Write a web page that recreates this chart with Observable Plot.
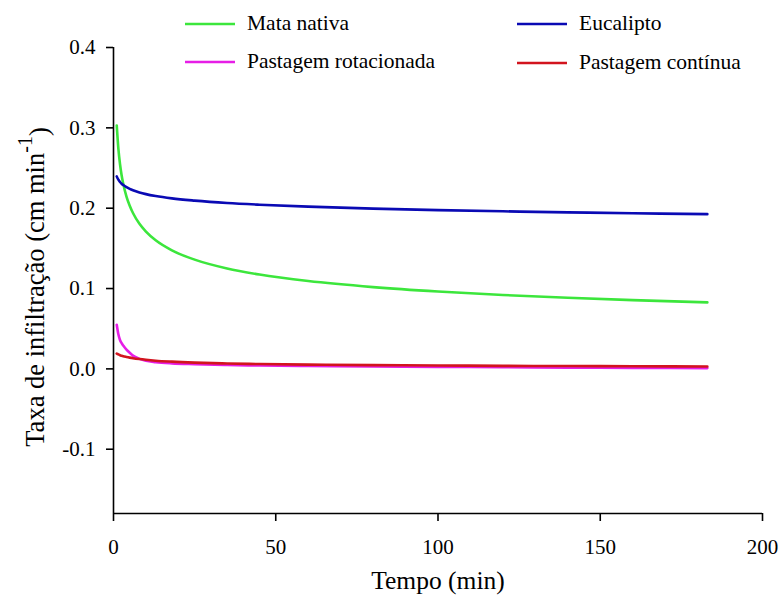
<!DOCTYPE html>
<html><head><meta charset="utf-8">
<script src="https://cdn.jsdelivr.net/npm/d3@7"></script>
<script src="https://cdn.jsdelivr.net/npm/@observablehq/plot@0.6"></script>
<style>
body{margin:0;background:#fff}
#chart{position:relative;width:779px;height:599px}
#chart svg text{font-family:"Liberation Serif","Times New Roman",Tinos,"DejaVu Serif",serif !important}
</style>
</head><body><div id="chart"></div>
<script>
// Time (min)
const tempo = [1, 1.5, 2, 2.5, 3, 4, 5, 6, 8, 10, 13, 18, 25, 35, 45, 60, 80, 100, 120, 140, 160, 183];
// Infiltration rate (cm min-1)
const mataNativa          = [0.303, 0.274, 0.255, 0.241, 0.2305, 0.2145, 0.203, 0.194, 0.1805, 0.1708, 0.160, 0.1475, 0.136, 0.125, 0.1174, 0.1093, 0.1018, 0.0963, 0.092, 0.0885, 0.0856, 0.0828];
const eucalipto           = [0.2395, 0.2355, 0.2326, 0.2305, 0.2288, 0.2261, 0.224, 0.2223, 0.2196, 0.2175, 0.2151, 0.2122, 0.2094, 0.2064, 0.2043, 0.2019, 0.1994, 0.1976, 0.1961, 0.1948, 0.1937, 0.1926];
const pastagemRotacionada = [0.055, 0.043, 0.036, 0.032, 0.029, 0.024, 0.020, 0.0165, 0.0125, 0.010, 0.0083, 0.0068, 0.0058, 0.0048, 0.0042, 0.0036, 0.003, 0.0025, 0.002, 0.0016, 0.0013, 0.001];
const pastagemContinua    = [0.019, 0.018, 0.017, 0.0163, 0.0157, 0.0148, 0.014, 0.0133, 0.0122, 0.0113, 0.0102, 0.009, 0.0078, 0.0067, 0.006, 0.0053, 0.0047, 0.0042, 0.0038, 0.0035, 0.0033, 0.003];

const seriesNames  = ["Mata nativa", "Eucalipto", "Pastagem rotacionada", "Pastagem contínua"];
const seriesColors = ["#3ce63c", "#0a0ab4", "#e61ee6", "#d2141e"];
const xTicks = [0, 50, 100, 150, 200];
const yTicks = [-0.1, 0, 0.1, 0.2, 0.3, 0.4];
const xDomain = [0, 200];
const yDomain = [-0.18, 0.4];
const xTitle = "Tempo (min)";
const yTitle = "Taxa de infiltração (cm min";
const yTitleSup = "-1";

const seriesValues = [mataNativa, eucalipto, pastagemRotacionada, pastagemContinua];
const data = seriesNames.flatMap((name, i) => tempo.map((t, j) => ({serie: name, t, v: seriesValues[i][j]})));

const font = "'Liberation Serif', 'Times New Roman', Tinos, 'DejaVu Serif', serif";

const plot = Plot.plot({
  width: 779,
  height: 599,
  marginLeft: 113,
  marginRight: 17,
  marginTop: 47,
  marginBottom: 86,
  style: {fontFamily: font, fontSize: "21px", color: "#000", background: "#fff"},
  x: {domain: xDomain},
  y: {domain: yDomain},
  color: {domain: seriesNames, range: seriesColors},
  marks: [
    Plot.ruleX([xDomain[0]], {stroke: "#000", strokeWidth: 1.6}),
    Plot.ruleY([yDomain[0]], {stroke: "#000", strokeWidth: 1.6}),
    Plot.axisX({ticks: xTicks, tickSize: 8, tickPadding: 18, fontSize: 21, label: null, strokeWidth: 1.6, tickFormat: d => String(d)}),
    Plot.axisY({ticks: yTicks, tickSize: 7, tickPadding: 11, fontSize: 21, label: null, strokeWidth: 1.6, tickFormat: d => d.toFixed(1)}),
    Plot.line(data, {x: "t", y: "v", z: "serie", stroke: "serie", strokeWidth: 2.6, curve: "monotone-x"})
  ]
});

document.getElementById("chart").appendChild(plot);

const svg = d3.select(plot);
// Axis titles
svg.append("text")
  .attr("x", 438).attr("y", 580).attr("dy", "0.35em")
  .attr("text-anchor", "middle")
  .style("font-size", "25.5px").attr("fill", "#000")
  .text(xTitle);
const yt = svg.append("text")
  .attr("transform", "translate(35,287) rotate(-90)")
  .attr("dy", "0.35em")
  .attr("text-anchor", "middle")
  .style("font-size", "26.5px").attr("fill", "#000");
yt.append("tspan").text(yTitle);
yt.append("tspan").attr("dy", "-0.6em").style("font-size", "20px").text(yTitleSup);
yt.append("tspan").attr("dy", "0.6em").text(")");

// Legend (two columns, two rows)
const legendPos = [[185, 24], [517, 24], [185, 62], [517, 63]];
const lg = svg.append("g").attr("text-anchor", "start");
seriesNames.forEach((name, i) => {
  const [lx, ly] = legendPos[i];
  lg.append("line").attr("x1", lx).attr("x2", lx + 50).attr("y1", ly).attr("y2", ly)
    .attr("stroke", seriesColors[i]).attr("stroke-width", 2.6);
  lg.append("text").attr("x", lx + 62).attr("y", ly).attr("dy", "0.3em")
    .attr("text-anchor", "start")
    .style("font-size", "21.5px").attr("fill", "#000")
    .text(name);
});
</script>
</body></html>
